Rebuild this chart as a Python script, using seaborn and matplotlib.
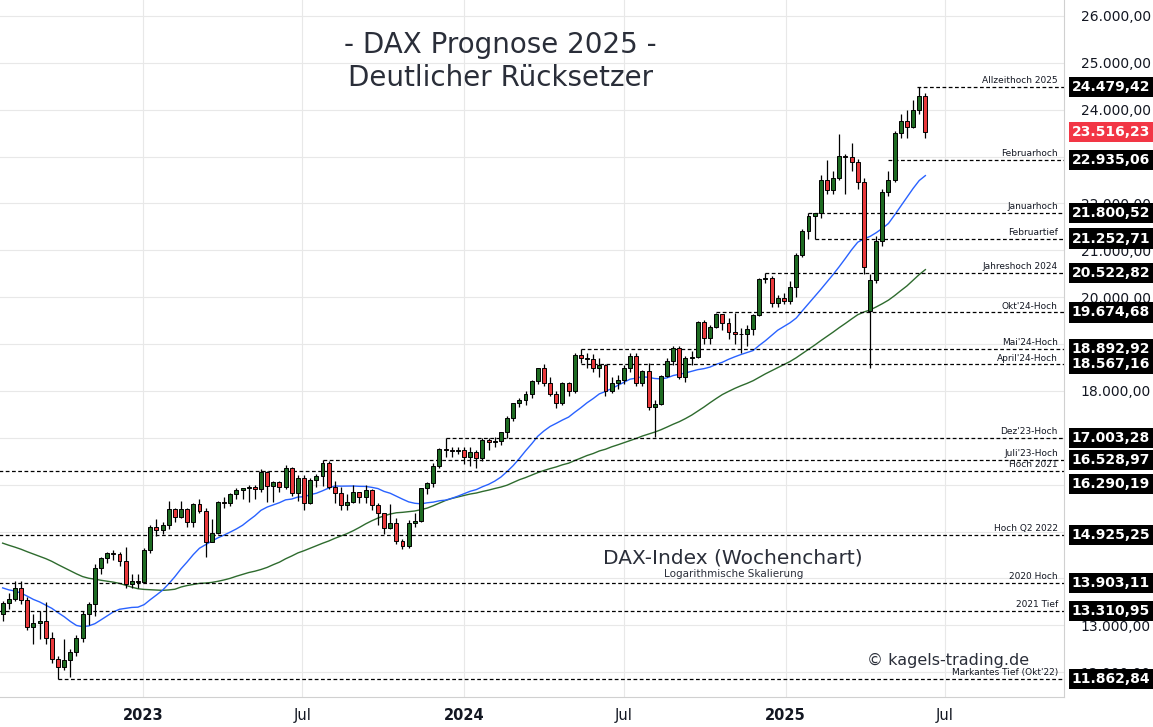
import numpy as np
import pandas as pd
import matplotlib
matplotlib.use("Agg")
import matplotlib.pyplot as plt
import matplotlib.transforms as mtrans
from matplotlib.ticker import FixedLocator, NullLocator
import seaborn as sns

# weekly closes before the visible window (only used to warm up the moving averages)
warmup_close = [15760, 15980, 15810, 15850, 15780, 15610, 15490, 15530, 15200, 15200, 15590, 15540,
                15690, 16050, 16160, 15260, 15170, 15620, 15530, 15530, 15740, 15950, 15880, 15600,
                15320, 15420, 15430, 15420, 15040, 14570, 13090, 13630, 14410, 14310, 14410, 14280,
                14450, 14140, 14100, 13670, 13960, 13980, 14460, 14450, 13760, 13130, 13270, 12780,
                12830, 12860, 13250]

first_week = "2022-07-25"
close = [13480, 13570, 13800, 13540, 12970, 13050, 13090, 12740, 12280, 12110, 12270, 12440,
         12730, 13240, 13460, 14220, 14430, 14540, 14530, 14370, 13890, 13940, 13920,
         # 2023
         14610, 15090, 15030, 15150, 15480, 15310, 15480, 15210, 15580, 15430, 14770, 14960, 15630,
         15600, 15810, 15880, 15920, 15960, 15910, 16280, 15980, 16050, 15950, 16360, 15830, 16150,
         15600, 16110, 16180, 16470, 15950, 15830, 15570, 15630, 15840, 15740, 15890, 15560, 15390,
         15070, 15190, 14800, 14690, 15190, 15230, 15920, 16030, 16400, 16760, 16750, 16710, 16750,
         # 2024
         16590, 16700, 16560, 16960, 16920, 16930, 17120, 17420, 17740, 17810, 17930, 18210, 18490,
         18180, 17930, 17740, 18160, 18000, 18770, 18700, 18690, 18500, 18560, 18000, 18160, 18240,
         18480, 18750, 18170, 18420, 17660, 17720, 18320, 18630, 18910, 18300, 18700, 18720, 19470,
         19120, 19370, 19650, 19460, 19250, 19220, 19210, 19320, 19630, 20380, 20410, 19880, 19980, 19910,
         # 2025
         20210, 20900, 21410, 21730, 21790, 22510, 22290, 22550, 23010, 22990, 22890, 22460, 20640,
         20370, 21210, 22240, 22500, 23500, 23770, 23630, 24000, 24300, 23516.23]
high = [13520, 13700, 13950, 13950, 13600, 13250, 13300, 13500, 12850, 12350, 12700, 12500,
        12800, 13300, 13500, 14300, 14450, 14560, 14600, 14560, 14680, 14100, 14100,
        14650, 15130, 15270, 15200, 15660, 15500, 15660, 15500, 15610, 15700, 15500, 15270, 15660,
        15730, 15830, 15920, 15940, 15990, 16000, 16330, 16300, 16070, 16080, 16430, 16370, 16200,
        16200, 16140, 16230, 16530, 16500, 16080, 15950, 15800, 16000, 15850, 15990, 15900, 15600,
        15400, 15580, 15300, 14850, 15250, 15400, 15930, 16050, 16460, 16790, 17000, 16800, 16800,
        16800, 16800, 16750, 17000, 17000, 17020, 17130, 17460, 17750, 17850, 18000, 18230, 18500,
        18570, 18300, 18000, 18200, 18200, 18800, 18893, 18800, 18780, 18700, 18570, 18300, 18350,
        18550, 18800, 18800, 18450, 18600, 17800, 18350, 18700, 18950, 18950, 18750, 18850, 19500,
        19520, 19400, 19674, 19650, 19550, 19670, 19350, 19400, 19650, 20400, 20523, 20450, 20050, 20100,
        20350, 20950, 21450, 21800, 21800, 22600, 22935, 22700, 23475, 23050, 23300, 22950, 22550,
        20500, 21300, 22300, 22700, 23550, 23900, 24000, 24200, 24479.42, 24350]
low = [13100, 13350, 13520, 13450, 12900, 12600, 12700, 12600, 12200, 11862.84, 12050, 11900,
       12350, 12650, 13000, 13200, 14100, 14320, 14400, 14270, 13800, 13790, 13800,
       13900, 14550, 14900, 14950, 15050, 15200, 15280, 15100, 15100, 15400, 14460, 14800, 14950,
       15500, 15550, 15700, 15690, 15630, 15700, 15850, 15630, 15630, 15850, 15900, 15750, 15650,
       15460, 15580, 15950, 15980, 15900, 15600, 15470, 15450, 15600, 15600, 15600, 15450, 15150,
       14950, 15050, 14730, 14630, 14650, 15100, 15200, 15800, 15950, 16350, 16600, 16600, 16650,
       16450, 16400, 16350, 16500, 16750, 16800, 16850, 17000, 17350, 17650, 17700, 17850, 18150,
       18100, 17900, 17630, 17700, 17900, 17950, 18600, 18500, 18400, 18300, 17900, 17950, 18050,
       18150, 18400, 18100, 18100, 17600, 17020, 17700, 18300, 18550, 18250, 18200, 18550, 18700,
       19000, 19000, 19350, 19300, 19100, 19000, 18800, 18950, 19200, 19600, 20300, 19800, 19800, 19850,
       19850, 20000, 20850, 21250, 21252.71, 21700, 22200, 22200, 22500, 22200, 22700, 22300, 20500,
       18490, 20300, 21100, 22150, 22450, 23400, 23400, 23600, 23900, 23400]
# weekly opens differing from the prior close (gaps)
open_gaps = {"2025-04-07": 19700}

levels = [24479.42, 22935.06, 21800.52, 21252.71, 20522.82, 19674.68, 18892.92, 18567.16,
          17003.28, 16528.97, 16290.19, 14925.25, 13903.11, 13310.95, 11862.84]
level_names = ["Allzeithoch 2025", "Februarhoch", "Januarhoch", "Februartief", "Jahreshoch 2024",
               "Okt'24-Hoch", "Mai'24-Hoch", "April'24-Hoch", "Dez'23-Hoch", "Juli'23-Hoch",
               "Hoch 2021", "Hoch Q2 2022", "2020 Hoch", "2021 Tief", "Markantes Tief (Okt'22)"]
level_start = ["2025-05-30", "2025-04-28", "2025-01-27", "2025-02-03", "2024-12-09", "2024-10-14",
               "2024-05-13", "2024-05-13", "2023-12-11", "2023-07-24", "2022-07-01", "2022-07-01",
               "2022-07-01", "2022-07-01", "2022-09-26"]
# where the price tag sits when it would collide with its neighbour
tag_pos = {16290.19: 16010}
last_price = 23516.23


def de(v):
    return f"{v:,.2f}".replace(",", "X").replace(".", ",").replace("X", ".")


dates = pd.date_range(first_week, periods=len(close), freq="7D")
df = pd.DataFrame({"date": dates, "close": close, "high": high, "low": low})
df["open"] = [warmup_close[-1]] + close[:-1]
for d, o in open_gaps.items():
    df.loc[df["date"] == pd.Timestamp(d), "open"] = o

allc = pd.Series(warmup_close + close)
n0 = len(warmup_close)
df["ma20"] = allc.rolling(20).mean().iloc[n0:].values
df["ma50"] = allc.rolling(50).mean().iloc[n0:].values

fig = plt.figure(figsize=(11.53, 7.27), dpi=100)
ax = fig.add_axes([0.0, 0.041, 0.923, 0.959])
x0, x1 = pd.Timestamp("2022-07-22"), pd.Timestamp("2025-11-14")
ax.set_xlim(x0, x1)
ax.set_ylim(11467, 26341)

yt = list(range(12000, 27000, 1000))
ax.yaxis.set_major_locator(FixedLocator(yt))
ax.yaxis.set_minor_locator(NullLocator())
ax.set_yticklabels([de(v) for v in yt])
ax.yaxis.tick_right()
ax.tick_params(axis="y", length=0, labelsize=10, labelcolor="#131722", pad=12)
xt = pd.to_datetime(["2023-01-01", "2023-07-01", "2024-01-01", "2024-07-01", "2025-01-01", "2025-07-01"])
ax.set_xticks(xt)
ax.set_xticklabels(["2023", "Jul", "2024", "Jul", "2025", "Jul"])
for lbl, b in zip(ax.get_xticklabels(), [1, 0, 1, 0, 1, 0]):
    lbl.set_fontweight("bold" if b else "normal")
ax.tick_params(axis="x", length=0, labelsize=10.5, labelcolor="#131722", pad=8)
ax.grid(True, color="#e8e8e8", lw=0.8)
for s in ax.spines.values():
    s.set_visible(False)
ax.spines["bottom"].set_visible(True)
ax.spines["bottom"].set_color("#d0d0d0")
ax.spines["right"].set_visible(True)
ax.spines["right"].set_color("#d0d0d0")
ax.set_axisbelow(True)

sns.lineplot(data=df, x="date", y="ma50", ax=ax, color="#2e6b2e", lw=1)
sns.lineplot(data=df, x="date", y="ma20", ax=ax, color="#2962ff", lw=1)

up = df["close"] >= df["open"]
ax.vlines(df["date"], df["low"], df["high"], color="black", lw=0.9, zorder=3)
for mask, col in [(up, "#1e6b22"), (~up, "#e8383b")]:
    sub = df[mask]
    ax.bar(sub["date"], (sub["close"] - sub["open"]).abs(), bottom=sub[["open", "close"]].min(axis=1),
           width=4.5, color=col, edgecolor="black", lw=0.7, zorder=4)

tr = mtrans.blended_transform_factory(ax.transAxes, ax.transData)
for lv, nm, st in zip(levels, level_names, level_start):
    ax.hlines(lv, pd.Timestamp(st), x1, colors="black", linestyles=(0, (3, 2)), lw=0.9, zorder=2)
    ax.text(0.994, lv + 40, nm, transform=tr, ha="right", va="bottom", fontsize=6.5, color="#131722")
    ax.text(1.007, tag_pos.get(lv, lv), de(lv), transform=tr,
            ha="left", va="center", fontsize=10, fontweight="bold", color="white", zorder=10,
            bbox=dict(boxstyle="square,pad=0.22", fc="#000000", ec="none"), clip_on=False)
ax.text(1.007, last_price, de(last_price), transform=tr, ha="left", va="center", fontsize=10,
        fontweight="bold", color="white", zorder=10,
        bbox=dict(boxstyle="square,pad=0.22", fc="#f23645", ec="none"), clip_on=False)

fig.text(0.434, 0.938, "- DAX Prognose 2025 -", ha="center", va="center", fontsize=20, color="#2a2e39")
fig.text(0.434, 0.893, "Deutlicher Rücksetzer", ha="center", va="center", fontsize=20, color="#2a2e39")
fig.text(0.636, 0.232, "DAX-Index (Wochenchart)", ha="center", va="center", fontsize=14.5, color="#2a2e39")
fig.text(0.636, 0.210, "Logarithmische Skalierung", ha="center", va="center", fontsize=7.5, color="#2a2e39")
fig.text(0.822, 0.092, "© kagels-trading.de", ha="center", va="center", fontsize=11.5, color="#2a2e39")
ax.set_xlabel("")
ax.set_ylabel("")

fig.savefig("out.png", dpi=100)
